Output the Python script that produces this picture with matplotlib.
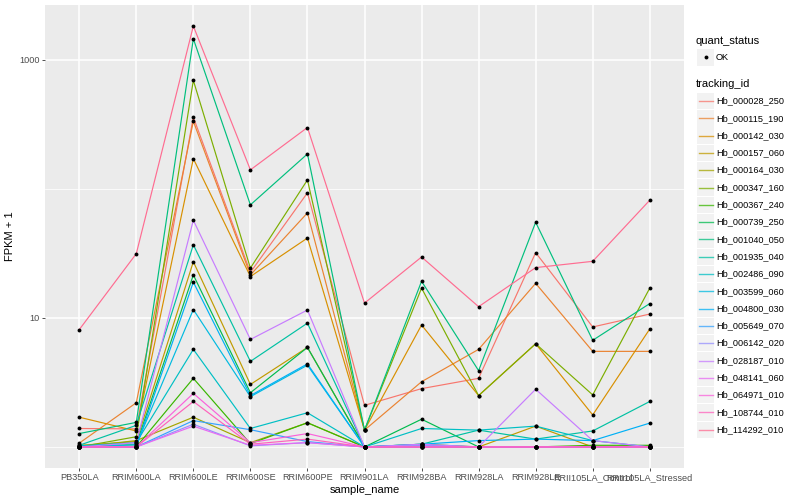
import numpy as np
import matplotlib
matplotlib.use("Agg")
import matplotlib.pyplot as plt
from matplotlib.patches import Rectangle
from matplotlib.lines import Line2D

plt.rcParams['font.family'] = ['Liberation Sans', 'DejaVu Sans']

# monsters en transcripten
samples = ["PB350LA", "RRIM600LA", "RRIM600LE", "RRIM600SE", "RRIM600PE", "RRIM901LA",
           "RRIM928BA", "RRIM928LA", "RRIM928LE", "RRII105LA_Control", "RRII105LA_Stressed"]

tracking_ids = ["Hb_000028_250", "Hb_000115_190", "Hb_000142_030", "Hb_000157_060",
                "Hb_000164_030", "Hb_000347_160", "Hb_000367_240", "Hb_000739_250",
                "Hb_001040_050", "Hb_001935_040", "Hb_002486_090", "Hb_003599_060",
                "Hb_004800_030", "Hb_005649_070", "Hb_006142_020", "Hb_028187_010",
                "Hb_048141_060", "Hb_064971_010", "Hb_108744_010", "Hb_114292_010"]

# ggplot hue palette voor 20 niveaus
colors = ["#F8766D", "#EA8331", "#D89000", "#C09B00", "#A3A500", "#7CAE00", "#39B600",
          "#00BB4E", "#00BF7D", "#00C1A3", "#00BFC4", "#00BAE0", "#00B0F6", "#35A2FF",
          "#9590FF", "#C77CFF", "#E76BF3", "#FA62DB", "#FF62BC", "#FF6C91"]

# FPKM + 1
fpkm1 = [
    [1.39, 1.38, 358, 22.5, 93, 2.1, 2.83, 3.4, 32, 8.5, 10.7],
    [1.07, 2.2, 333, 21.5, 65, 1.35, 3.2, 5.7, 18.5, 5.5, 5.5],
    [1.7, 1.33, 171, 20.9, 41.5, 1.35, 8.8, 2.5, 6.3, 1.77, 8.2],
    [1.03, 1.1, 27.2, 3.05, 5.9, 1.0, 1.02, 1.0, 1.45, 1.0, 1.0],
    [1.0, 1.12, 1.7, 1.08, 1.54, 1.0, 1.0, 1.0, 1.0, 1.0, 1.02],
    [1.0, 1.2, 690, 24.3, 117, 1.35, 17, 2.5, 6.3, 2.53, 17],
    [1.0, 1.0, 3.4, 1.06, 1.54, 1.0, 1.05, 1.0, 1.0, 1.03, 1.03],
    [1.02, 1.04, 21.5, 2.63, 5.9, 1.0, 1.64, 1.0, 1.0, 1.0, 1.0],
    [1.27, 1.55, 1450, 75, 186, 1.35, 19.2, 3.9, 55, 6.7, 12.9],
    [1.03, 1.47, 36.8, 4.6, 9.1, 1.0, 1.05, 1.35, 1.15, 1.33, 2.25],
    [1.02, 1.08, 5.7, 1.39, 1.84, 1.0, 1.39, 1.35, 1.45, 1.12, 1.0],
    [1.0, 1.04, 11.6, 2.45, 4.3, 1.0, 1.0, 1.0, 1.0, 1.0, 1.0],
    [1.0, 1.0, 18.9, 2.5, 4.4, 1.0, 1.05, 1.12, 1.15, 1.12, 1.53],
    [1.0, 1.0, 1.6, 1.36, 1.1, 1.0, 1.03, 1.0, 1.0, 1.0, 1.0],
    [1.0, 1.0, 1.5, 1.02, 1.08, 1.0, 1.03, 1.0, 1.0, 1.0, 1.0],
    [1.0, 1.08, 57, 6.8, 11.5, 1.0, 1.05, 1.0, 2.8, 1.12, 1.0],
    [1.0, 1.0, 1.45, 1.03, 1.08, 1.0, 1.0, 1.0, 1.0, 1.0, 1.0],
    [1.0, 1.0, 2.6, 1.08, 1.27, 1.0, 1.0, 1.0, 1.0, 1.0, 1.0],
    [1.0, 1.0, 2.25, 1.05, 1.15, 1.0, 1.0, 1.0, 1.0, 1.0, 1.0],
    [8.1, 31.4, 1820, 140, 298, 13, 29.6, 12.2, 24.5, 27.4, 81.5],
]

W, H = 800, 500


def fx(px):
    return px / W


def fy(py):
    return 1 - py / H


fig = plt.figure(figsize=(8, 5), dpi=100)
ax = fig.add_axes([fx(45), fy(468), fx(684) - fx(45), fy(5) - fy(468)])
ax.set_facecolor("#EBEBEB")
for s in ax.spines.values():
    s.set_visible(False)

x = np.arange(len(samples))
for vals, c in zip(fpkm1, colors):
    ax.plot(x, vals, color=c, lw=0.85, zorder=2)
for vals in fpkm1:
    ax.plot(x, vals, 'o', color='black', ms=2.8, zorder=3, mec='none')

ax.set_yscale('log')
alle = np.log10(np.array(fpkm1, dtype=float))
lo, hi = alle.min(), alle.max()
pad = (hi - lo) * 0.05
ax.set_ylim(10 ** (lo - pad), 10 ** (hi + pad))
ax.set_xlim(-0.6, len(samples) - 0.4)

# rasterlijnen zoals ggplot
for yv in [1, 100]:
    ax.axhline(yv, color='white', lw=0.55, zorder=1)
for yv in [10, 1000]:
    ax.axhline(yv, color='white', lw=1.1, zorder=1)
for xv in x:
    ax.axvline(xv, color='white', lw=1.1, zorder=1)

ax.set_yticks([10, 1000])
ax.set_yticklabels(["10", "1000"])
ax.yaxis.set_minor_locator(matplotlib.ticker.NullLocator())
ax.set_xticks(x)
ax.set_xticklabels(samples)
ax.tick_params(axis='both', length=2, width=0.6, color='#333333', labelsize=6.6,
               labelcolor='#4D4D4D', pad=1.8)
ax.set_xlabel("sample_name", fontsize=8, labelpad=2)
ax.set_ylabel("FPKM + 1", fontsize=8, labelpad=3)

# legenda met de hand
fig.text(fx(696), fy(40.5), "quant_status", fontsize=8, va='center', ha='left')
fig.add_artist(Rectangle((fx(697), fy(65.5)), fx(17), fy(0) - fy(16.5),
                         transform=fig.transFigure, facecolor='#F2F2F2', edgecolor='none'))
fig.add_artist(Line2D([fx(705.5)], [fy(57)], marker='o', color='black', ms=2.8,
                      mec='none', transform=fig.transFigure))
fig.text(fx(716), fy(57), "OK", fontsize=6.6, va='center', ha='left', color='black')

fig.text(fx(696), fy(84.3), "tracking_id", fontsize=8, va='center', ha='left')
stap = 17.3
for i, (naam, c) in enumerate(zip(tracking_ids, colors)):
    yc = 101 + stap * i
    fig.add_artist(Rectangle((fx(697), fy(yc + 8.2)), fx(17), fy(0) - fy(16.4),
                             transform=fig.transFigure, facecolor='#F2F2F2', edgecolor='none'))
    fig.add_artist(Line2D([fx(698.5), fx(712.5)], [fy(yc), fy(yc)], color=c, lw=1.0,
                          alpha=0.75, transform=fig.transFigure))
    fig.text(fx(716), fy(yc), naam, fontsize=6.6, va='center', ha='left', color='black')

fig.savefig("out.png", dpi=100)
